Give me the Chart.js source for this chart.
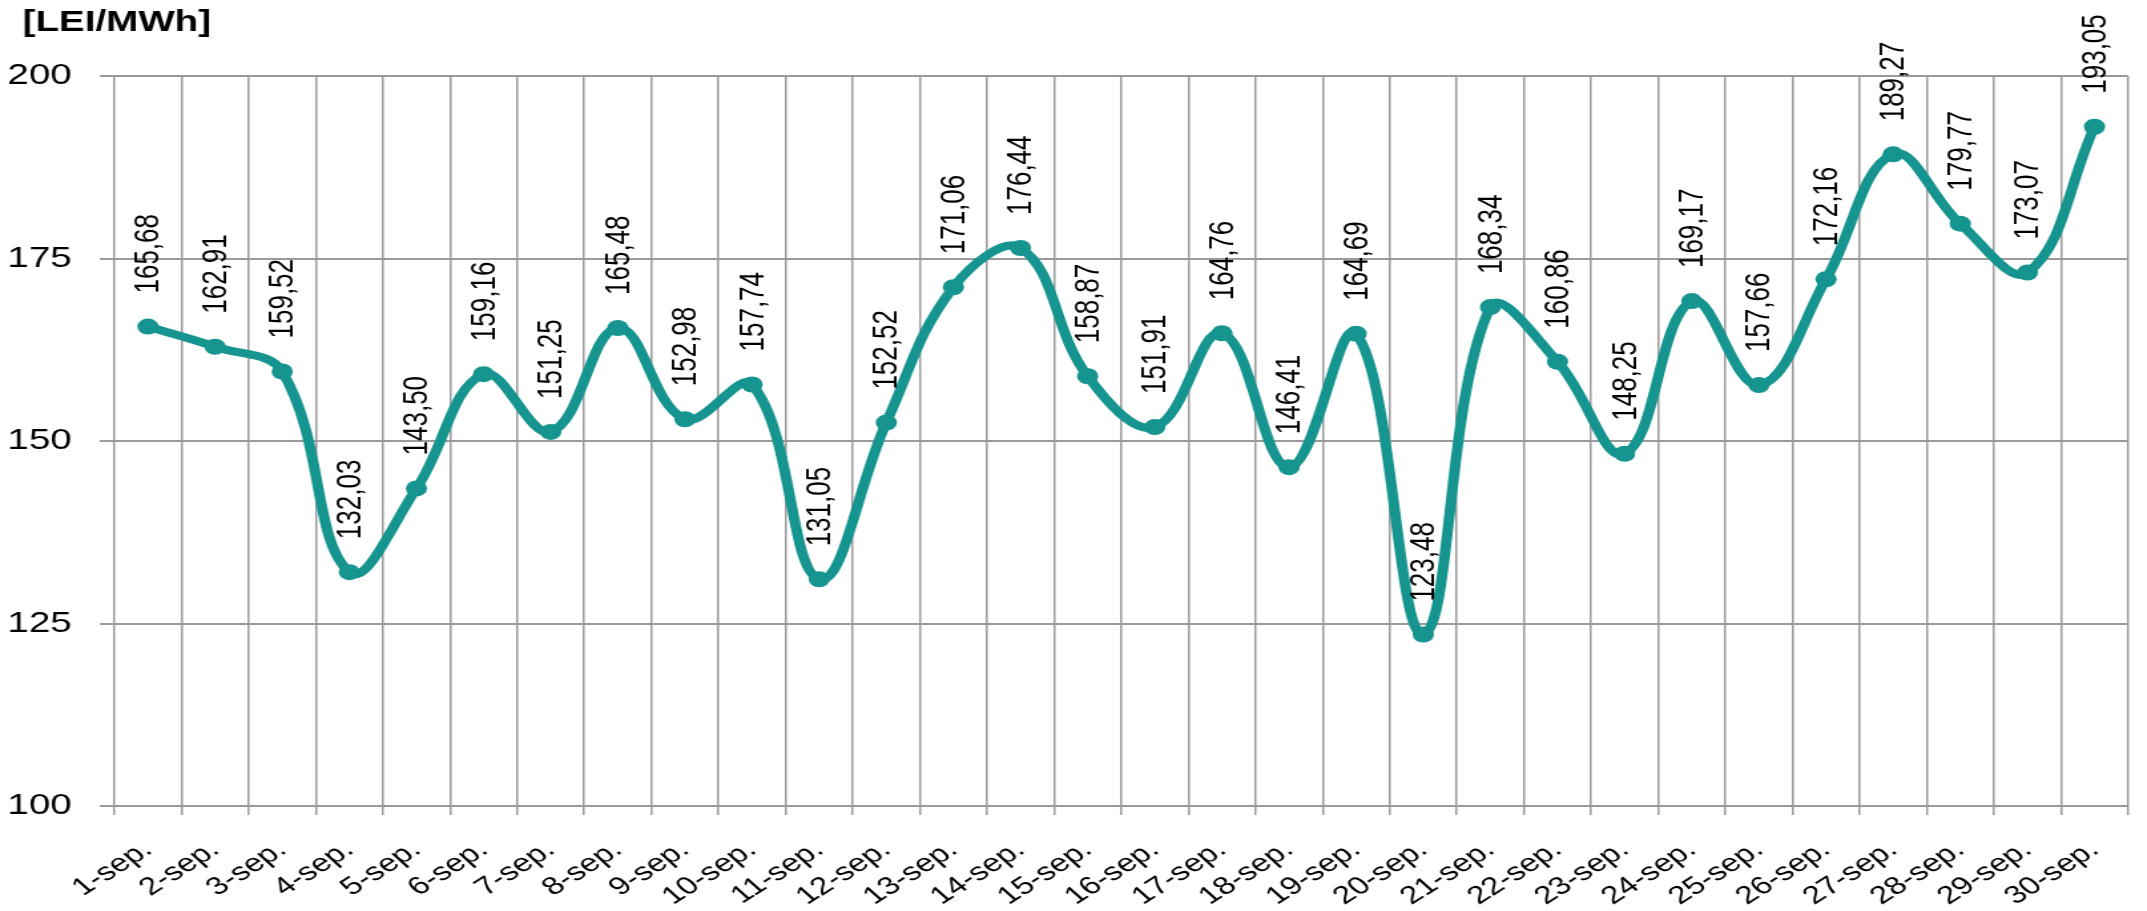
<!DOCTYPE html>
<html>
<head>
<meta charset="utf-8">
<title>Pret mediu zilnic - septembrie</title>
<script src="https://cdn.jsdelivr.net/npm/chart.js@4/dist/chart.umd.min.js"></script>
<style>
    html, body { margin: 0; padding: 0; background: #fff; overflow: hidden; }
    /* the original picture is stretched sideways, so the chart is drawn narrow and scaled out */
    #wrap { width: 1614px; height: 911px; transform: scaleX(1.3302); transform-origin: 0 0; }
</style>
</head>
<body>
<div id="wrap">
    <canvas id="priceChart" width="1614" height="911"></canvas>
</div>
<script>
// Chart data
const days = [
    '1-sep.', '2-sep.', '3-sep.', '4-sep.', '5-sep.', '6-sep.', '7-sep.', '8-sep.', '9-sep.', '10-sep.',
    '11-sep.', '12-sep.', '13-sep.', '14-sep.', '15-sep.', '16-sep.', '17-sep.', '18-sep.', '19-sep.', '20-sep.',
    '21-sep.', '22-sep.', '23-sep.', '24-sep.', '25-sep.', '26-sep.', '27-sep.', '28-sep.', '29-sep.', '30-sep.'
];
const prices = [
    165.68, 162.91, 159.52, 132.03, 143.50, 159.16, 151.25, 165.48, 152.98, 157.74,
    131.05, 152.52, 171.06, 176.44, 158.87, 151.91, 164.76, 146.41, 164.69, 123.48,
    168.34, 160.86, 148.25, 169.17, 157.66, 172.16, 189.27, 179.77, 173.07, 193.05
];
const yTicks = [100, 125, 150, 175, 200];
const unitLabel = '[LEI/MWh]';

const lineColor = '#16948f';
const gridColor = '#9a9a9a';
const fontFamily = '"Liberation Sans", Arial, sans-serif';

// Unit text in the top left corner
const unitTitle = {
    id: 'unitTitle',
    afterDraw(chart) {
        const ctx = chart.ctx;
        ctx.save();
        ctx.font = `bold 29px ${fontFamily}`;
        ctx.fillStyle = '#000';
        ctx.textAlign = 'left';
        ctx.textBaseline = 'middle';
        ctx.fillText(unitLabel, chart.chartArea.left - 69, 23);
        ctx.restore();
    }
};

// Draw the value above each point, turned upright like in Excel
const valueLabels = {
    id: 'valueLabels',
    afterDatasetsDraw(chart) {
        const ctx = chart.ctx;
        const meta = chart.getDatasetMeta(0);
        ctx.save();
        ctx.font = `26px ${fontFamily}`;
        ctx.fillStyle = '#000';
        ctx.textAlign = 'left';
        ctx.textBaseline = 'middle';
        meta.data.forEach((pt, i) => {
            const text = prices[i].toFixed(2).replace('.', ',');
            ctx.save();
            ctx.translate(pt.x + 1, pt.y - 33);
            ctx.rotate(-Math.PI / 2);
            ctx.fillText(text, 0, 0);
            ctx.restore();
        });
        ctx.restore();
    }
};

const ctx = document.getElementById('priceChart').getContext('2d');
const priceChart = new Chart(ctx, {
    type: 'line',
    data: {
        labels: days,
        datasets: [{
            data: prices,
            borderColor: lineColor,
            backgroundColor: lineColor,
            borderWidth: 8,
            pointRadius: 8,
            pointBorderWidth: 0,
            pointBackgroundColor: lineColor,
            tension: 0.4,
            fill: false
        }]
    },
    options: {
        responsive: false,
        animation: false,
        layout: {
            padding: { top: 76, left: 0, right: 1, bottom: 0 }
        },
        plugins: {
            legend: { display: false },
            tooltip: { enabled: false },
            title: { display: false }
        },
        scales: {
            x: {
                offset: true,
                grid: {
                    offset: true,
                    color: gridColor,
                    lineWidth: 1.5,
                    tickLength: 9
                },
                border: { color: gridColor, width: 1.5 },
                ticks: {
                    color: '#000',
                    font: { family: fontFamily, size: 25 },
                    minRotation: 40,
                    maxRotation: 40,
                    autoSkip: false,
                    padding: 20
                },
                afterFit: (scale) => { scale.height = 105; }
            },
            y: {
                min: yTicks[0],
                max: yTicks[yTicks.length - 1],
                afterBuildTicks: (scale) => { scale.ticks = yTicks.map(v => ({ value: v })); },
                grid: {
                    color: gridColor,
                    lineWidth: 2,
                    tickLength: 11
                },
                border: { display: false },
                ticks: {
                    color: '#000',
                    font: { family: fontFamily, size: 29 },
                    padding: 21
                },
                afterFit: (scale) => { scale.width = 86; }
            }
        }
    },
    plugins: [valueLabels, unitTitle]
});
</script>
</body>
</html>
